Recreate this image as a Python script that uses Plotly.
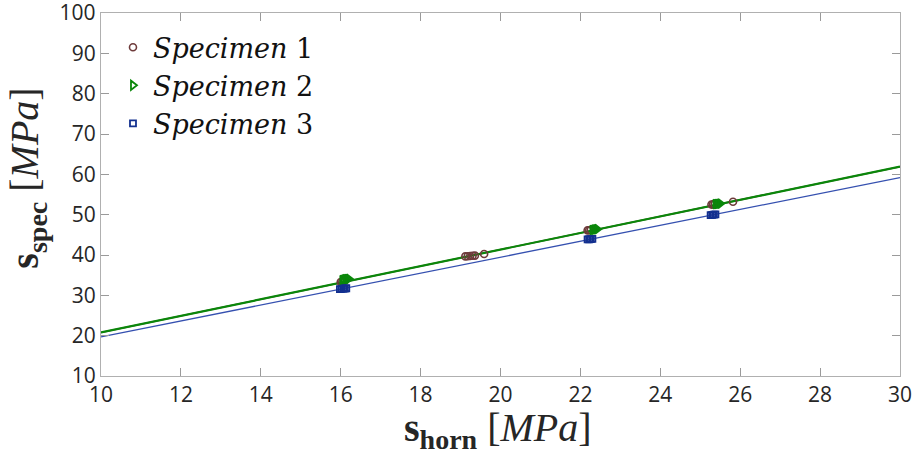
import plotly.graph_objects as go

# ---- data ----
spec1_x = [16.00, 16.04, 16.08, 19.12, 19.18, 19.24, 19.30, 19.36, 19.59, 22.18, 22.22, 22.26, 25.28, 25.32, 25.36, 25.82]
spec1_y = [33.3, 33.4, 33.5, 39.65, 39.7, 39.75, 39.8, 39.85, 40.25, 46.1, 46.15, 46.2, 52.5, 52.55, 52.6, 53.2]

spec2_x = [16.04, 16.08, 16.12, 16.16, 16.20, 22.30, 22.34, 22.38, 22.42, 25.38, 25.42, 25.46, 25.50]
spec2_y = [33.8, 33.9, 34.0, 34.05, 34.1, 46.2, 46.3, 46.35, 46.4, 52.6, 52.65, 52.7, 52.75]

spec3_x = [15.98, 16.02, 16.06, 16.10, 16.14, 22.18, 22.22, 22.26, 22.30, 25.26, 25.30, 25.34, 25.38]
spec3_y = [31.55, 31.6, 31.65, 31.7, 31.75, 43.85, 43.9, 43.95, 44.0, 49.9, 49.95, 50.0, 50.05]

fit_x = [10, 30]
fit1_y = [20.8, 61.9]
fit2_y = [20.8, 61.9]
fit3_y = [19.7, 59.2]

x_ticks = [10, 12, 14, 16, 18, 20, 22, 24, 26, 28, 30]
y_ticks = [10, 20, 30, 40, 50, 60, 70, 80, 90, 100]

c_brown = "#6e3b3b"
c_green = "#0a870a"
c_blue_line = "#3550b0"
c_blue_mark = "#13308f"

fig = go.Figure()
fig.add_trace(go.Scatter(x=fit_x, y=fit1_y, mode="lines", line=dict(color=c_brown, width=1.5), showlegend=False, hoverinfo="skip"))
fig.add_trace(go.Scatter(x=fit_x, y=fit3_y, mode="lines", line=dict(color=c_blue_line, width=1.3), showlegend=False, hoverinfo="skip"))
fig.add_trace(go.Scatter(x=fit_x, y=fit2_y, mode="lines", line=dict(color=c_green, width=2.2), showlegend=False, hoverinfo="skip"))

fig.add_trace(go.Scatter(x=spec1_x, y=spec1_y, mode="markers", name="<i>Specimen</i> 1",
                         marker=dict(symbol="circle-open", size=7, color=c_brown, line=dict(width=1.6, color=c_brown))))
fig.add_trace(go.Scatter(x=spec2_x, y=spec2_y, mode="markers", name="<i>Specimen</i> 2",
                         marker=dict(symbol="triangle-right-open", size=8, color=c_green, line=dict(width=1.8, color=c_green))))
fig.add_trace(go.Scatter(x=spec3_x, y=spec3_y, mode="markers", name="<i>Specimen</i> 3",
                         marker=dict(symbol="square-open", size=6, color=c_blue_mark, line=dict(width=1.8, color=c_blue_mark))))

axis_common = dict(showgrid=False, zeroline=False, showline=True, linecolor="#b0b0b0", linewidth=1.3,
                   mirror="ticks", ticks="inside", ticklen=8, tickcolor="#9a9a9a", tickwidth=1,
                   ticklabeloverflow="allow", automargin=False,
                   tickfont=dict(family="Open Sans", size=21, color="#262626"))

fig.update_xaxes(range=[10, 30], tickvals=x_ticks, ticktext=[str(v) for v in x_ticks], **axis_common)
fig.update_yaxes(range=[10, 100], tickvals=y_ticks, ticktext=[str(v) for v in y_ticks], **axis_common)

fig.add_annotation(xref="paper", yref="paper", x=0.497, y=-0.149, xanchor="center", yanchor="middle",
                   text="<b>s<sub>horn</sub></b> [<i>MPa</i>]", showarrow=False,
                   font=dict(family="Liberation Serif", size=40, color="#262626"))
fig.add_annotation(xref="paper", yref="paper", x=-0.092, y=0.545, xanchor="center", yanchor="middle",
                   text="<b>s<sub>spec</sub></b> [<i>MPa</i>]", showarrow=False, textangle=-90,
                   font=dict(family="Liberation Serif", size=40, color="#262626"))

fig.update_layout(
    width=914, height=454,
    margin=dict(l=101, r=14, t=13, b=78, autoexpand=False),
    paper_bgcolor="white", plot_bgcolor="white",
    legend=dict(x=0.015, y=0.972, xanchor="left", yanchor="top", bgcolor="rgba(0,0,0,0)",
                font=dict(family="DejaVu Serif", size=27, color="#111111"),
                itemsizing="trace", tracegroupgap=0),
)

fig.write_html("out.html", config={"displayModeBar": False},
               post_script="document.body.style.margin='0px';")
